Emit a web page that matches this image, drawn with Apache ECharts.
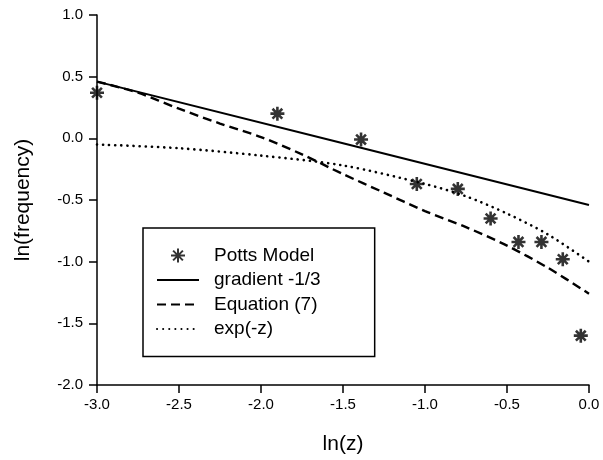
<!DOCTYPE html>
<html>
<head>
<meta charset="utf-8">
<script src="https://cdn.jsdelivr.net/npm/echarts@6/dist/echarts.min.js"></script>
<style>
  html, body { margin: 0; padding: 0; background: #fff; }
  #chart { width: 603px; height: 460px; }
</style>
</head>
<body>
<div id="chart"></div>
<script>
// Potts model points (ln z, ln frequency)
const pottsX = [-3.0, -1.9, -1.39, -1.05, -0.80, -0.60, -0.43, -0.29, -0.16, -0.05];
const pottsY = [0.37, 0.20, -0.01, -0.37, -0.41, -0.65, -0.84, -0.84, -0.98, -1.60];

// gradient -1/3 line
const gradX = [-3.0, -1.5, 0.0];
const gradY = [0.46, -0.04, -0.54];

// Equation (7)
const eqX = [-3.0, -2.75, -2.5, -2.25, -2.0, -1.75, -1.5, -1.25, -1.0, -0.75, -0.5, -0.25, 0.0];
const eqY = [0.46, 0.37, 0.24, 0.12, 0.01, -0.13, -0.29, -0.44, -0.59, -0.72, -0.87, -1.05, -1.26];

// exp(-z)
const expX = [-3.0, -2.5, -2.0, -1.5, -1.0, -0.75, -0.5, -0.25, 0.0];
const expY = [-0.05, -0.08, -0.14, -0.22, -0.37, -0.47, -0.61, -0.78, -1.0];

const seriesNames = ['Potts Model', 'gradient -1/3', 'Equation (7)', 'exp(-z)'];

const pairs = (xs, ys) => xs.map((x, i) => [x, ys[i]]);

const starPath = 'path://M10,0 L10,20 M0,10 L20,10 M3,3 L17,17 M3,17 L17,3';
const font = 'Liberation Sans';

const chart = echarts.init(document.getElementById('chart'), null, { renderer: 'canvas' });

// line entries in the legend: hide the default marker, keep the line
const legendData = seriesNames.map((name, i) =>
  i === 0 ? { name: name } : { name: name, itemStyle: { opacity: 0 } }
);

chart.setOption({
  animation: false,
  backgroundColor: '#fff',
  color: ['#000', '#000', '#000', '#000'],
  grid: { left: 97, right: 14, top: 15, bottom: 73 },
  xAxis: {
    type: 'value',
    min: -3, max: 0, interval: 0.5,
    name: 'ln(z)',
    nameLocation: 'middle',
    nameGap: 49,
    nameTextStyle: { fontFamily: font, fontSize: 21, color: '#000' },
    axisLine: { show: true, onZero: false, lineStyle: { color: '#000', width: 1.5 } },
    axisTick: { show: true, length: 8, lineStyle: { color: '#000', width: 1.5 } },
    axisLabel: {
      margin: 12, color: '#000', fontFamily: font, fontSize: 15,
      formatter: v => v.toFixed(1)
    },
    splitLine: { show: false }
  },
  yAxis: {
    type: 'value',
    min: -2, max: 1, interval: 0.5,
    name: 'ln(frequency)',
    nameLocation: 'middle',
    nameGap: 63,
    nameTextStyle: { fontFamily: font, fontSize: 21, color: '#000' },
    axisLine: { show: true, onZero: false, lineStyle: { color: '#000', width: 1.5 } },
    axisTick: { show: true, length: 8, lineStyle: { color: '#000', width: 1.5 } },
    axisLabel: {
      margin: 14, color: '#000', fontFamily: font, fontSize: 15,
      formatter: v => v.toFixed(1)
    },
    splitLine: { show: false }
  },
  legend: {
    orient: 'vertical',
    left: 143, top: 228,
    data: legendData,
    itemWidth: 42, itemHeight: 14,
    itemGap: 5.5,
    padding: [18, 54, 18, 13],
    borderColor: '#000', borderWidth: 1.5,
    textStyle: { fontFamily: font, fontSize: 19, color: '#000', padding: [0, 0, 0, 10] }
  },
  series: [
    {
      name: seriesNames[0],
      type: 'scatter',
      data: pairs(pottsX, pottsY),
      symbol: starPath,
      symbolSize: 14,
      symbolKeepAspect: true,
      itemStyle: { color: 'none', borderColor: '#000', borderWidth: 2.6 },
      z: 5
    },
    {
      name: seriesNames[1],
      type: 'line',
      data: pairs(gradX, gradY),
      symbol: 'none',
      lineStyle: { color: '#000', width: 2 }
    },
    {
      name: seriesNames[2],
      type: 'line',
      data: pairs(eqX, eqY),
      symbol: 'none',
      smooth: 0.3,
      lineStyle: { color: '#000', width: 2.4, type: [9, 5] }
    },
    {
      name: seriesNames[3],
      type: 'line',
      data: pairs(expX, expY),
      symbol: 'none',
      smooth: 0.3,
      lineStyle: { color: '#000', width: 2.6, type: [0.1, 6], cap: 'round' }
    }
  ]
});
</script>
</body>
</html>
